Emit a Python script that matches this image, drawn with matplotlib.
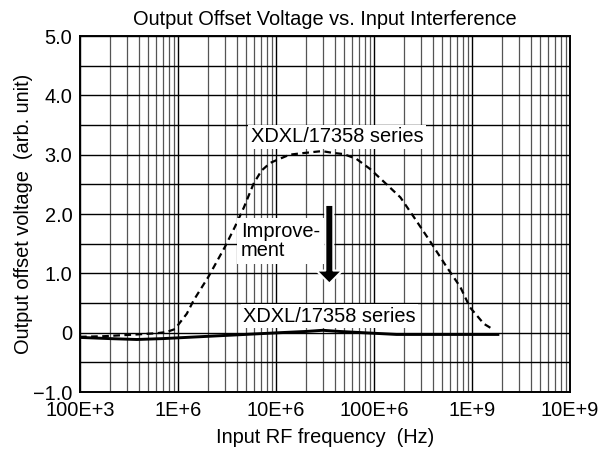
import matplotlib
matplotlib.use("Agg")
import matplotlib.pyplot as plt
from matplotlib.ticker import FixedLocator, LogLocator, NullFormatter, MultipleLocator
from matplotlib.patches import FancyArrowPatch

plt.rcParams['font.family'] = ['Liberation Sans', 'DejaVu Sans']

# ---- data ----
freq_before = [1.0e5, 1.74e5, 3.8e5, 6.0e5, 7.6e5, 9.3e5, 1.23e6, 1.45e6, 2.04e6, 3.0e6,
               3.8e6, 4.7e6, 5.9e6, 7.1e6, 8.7e6, 1.02e7, 1.38e7, 1.74e7, 2.57e7, 2.95e7,
               3.8e7, 4.9e7, 6.6e7, 9.1e7, 1.23e8, 1.86e8, 2.5e8, 3.7e8, 5.5e8, 7.6e8,
               9.5e8, 1.32e9, 1.66e9]
volt_before = [-0.07, -0.06, -0.03, -0.01, 0.01, 0.06, 0.32, 0.55, 0.94, 1.44,
               1.78, 2.11, 2.51, 2.73, 2.86, 2.91, 3.00, 3.02, 3.05, 3.06,
               3.03, 3.01, 2.93, 2.76, 2.56, 2.28, 1.97, 1.55, 1.11, 0.77,
               0.43, 0.15, 0.05]

freq_after = [1.0e5, 2.0e5, 3.8e5, 7.0e5, 1.1e7, 2.0e7, 3.0e7, 4.5e7, 1.0e8, 1.7e8, 1.9e9]
volt_after = [-0.08, -0.10, -0.115, -0.10, 0.00, 0.02, 0.04, 0.02, -0.01, -0.03, -0.03]

x_ticks = [1e5, 1e6, 1e7, 1e8, 1e9, 1e10]
x_tick_labels = ['100E+3', '1E+6', '10E+6', '100E+6', '1E+9', '10E+9']
y_ticks = [-1.0, 0.0, 1.0, 2.0, 3.0, 4.0, 5.0]
y_tick_labels = ['\u22121.0', '0', '1.0', '2.0', '3.0', '4.0', '5.0']

title = 'Output Offset Voltage vs. Input Interference'
x_label = 'Input RF frequency  (Hz)'
y_label = 'Output offset voltage  (arb. unit)'
series_label = 'XDXL/17358 series'
improve_label = 'Improve-\nment'

# ---- figure ----
W, H = 600, 453
fig = plt.figure(figsize=(W / 100, H / 100), dpi=100)
left, right, top, bottom = 80, 570, 36, 392
ax = fig.add_axes([left / W, (H - bottom) / H, (right - left) / W, (bottom - top) / H])

FS = 14.4
ax.set_xscale('log')
ax.set_xlim(1e5, 1e10)
ax.set_ylim(-1.0, 5.0)

ax.xaxis.set_major_locator(FixedLocator(x_ticks))
ax.set_xticklabels(x_tick_labels, fontsize=FS)
ax.xaxis.set_minor_locator(LogLocator(base=10, subs=range(2, 10), numticks=50))
ax.xaxis.set_minor_formatter(NullFormatter())
ax.set_yticks(y_ticks)
ax.set_yticklabels(y_tick_labels, fontsize=FS)
ax.yaxis.set_minor_locator(MultipleLocator(0.5))
ax.tick_params(which='both', length=0)
ax.tick_params(axis='x', pad=6.5)
ax.tick_params(axis='y', pad=5.5)

ax.grid(which='major', axis='both', color='black', lw=1.0)
ax.grid(which='minor', axis='x', color='#555555', lw=0.9)
ax.grid(which='minor', axis='y', color='black', lw=1.0)
ax.set_axisbelow(True)
for s in ax.spines.values():
    s.set_linewidth(1.4)
    s.set_zorder(5)

ax.plot(freq_before, volt_before, color='black', lw=1.6, linestyle=(0, (3, 2)), zorder=3)
ax.plot(freq_after, volt_after, color='black', lw=2.1, zorder=3, solid_capstyle='butt')

ax.set_title(title, fontsize=FS, pad=8)
ax.set_xlabel(x_label, fontsize=FS)
ax.set_ylabel(y_label, fontsize=FS)
ax.xaxis.set_label_coords(0.5, -0.102)
ax.yaxis.set_label_coords(-0.095, 0.5)

bbox = dict(boxstyle='square,pad=0.12', fc='white', ec='none')
ax.text(4.2e7, 3.30, series_label, fontsize=FS, ha='center', va='center', bbox=bbox, zorder=4)
ax.text(3.5e7, 0.28, series_label, fontsize=FS, ha='center', va='center', bbox=bbox, zorder=4)
ax.text(4.4e6, 1.55, improve_label, fontsize=FS, ha='left', va='center',
        linespacing=1.0, bbox=dict(boxstyle='square,pad=0.2', fc='white', ec='none'), zorder=4)

arrow = FancyArrowPatch((3.5e7, 2.20), (3.5e7, 0.78),
                        arrowstyle='simple,head_length=9.4,head_width=18.7,tail_width=5.8',
                        mutation_scale=1, fc='black', ec='white', lw=1.5, zorder=4)
ax.add_patch(arrow)

fig.savefig('out.png', dpi=100)
